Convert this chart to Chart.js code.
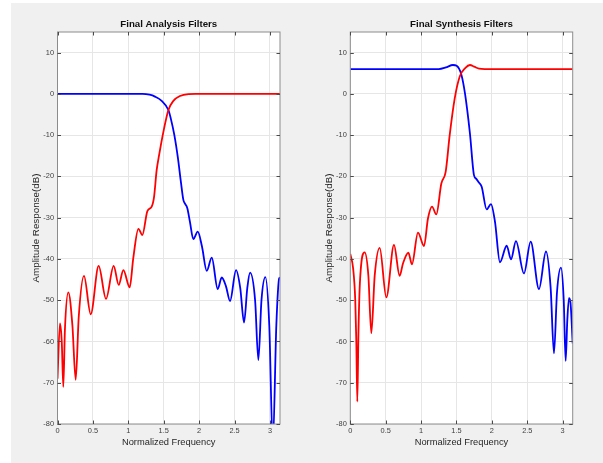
<!DOCTYPE html>
<html><head><meta charset="utf-8">
<script src="https://cdn.jsdelivr.net/npm/chart.js@4"></script>
<style>
html,body{margin:0;padding:0;background:#fff;overflow:hidden;}
#bg{position:absolute;left:11px;top:3px;width:592px;height:460px;background:#f0f0f0;}
canvas{position:absolute;top:0;}
</style></head><body>
<div id="bg"></div>
<canvas id="c1" width="301" height="463" style="left:0px"></canvas>
<canvas id="c2" width="303" height="463" style="left:300px"></canvas>
<script>
// ---- tick labels ----
const xTicks = [0, 0.5, 1, 1.5, 2, 2.5, 3];
const xTickLabels = ['0', '0.5', '1', '1.5', '2', '2.5', '3'];
const yTicks = [-80, -70, -60, -50, -40, -30, -20, -10, 0, 10];
const yTickLabels = ['-80', '-70', '-60', '-50', '-40', '-30', '-20', '-10', '0', '10'];
const titles = ['Final Analysis Filters', 'Final Synthesis Filters'];
const xLabel = 'Normalized Frequency';
const yLabel = 'Amplitude Response(dB)';

// ---- Analysis: lowpass (blue) ----
const anaLowF = [0, 1.2, 1.3, 1.377, 1.471, 1.566, 1.60, 1.65, 1.70, 1.74, 1.777, 1.80, 1.833, 1.87, 1.918, 1.98, 2.04, 2.107, 2.178, 2.262, 2.319, 2.38, 2.436, 2.521, 2.58, 2.634, 2.68, 2.719, 2.79, 2.836, 2.88, 2.935, 2.99, 3.04, 3.09, 3.13, 3.1416];
const anaLowDb = [0, 0, -0.2, -0.67, -1.7, -3.9, -6, -10, -15.5, -21, -25.7, -26.6, -27.7, -31, -35.2, -33.4, -37, -42.9, -39.7, -47.3, -44.5, -46.7, -50.2, -42.7, -47, -55.4, -47, -43.3, -50, -64.5, -50, -44.4, -56, -85, -56, -44.7, -44.5];
// ---- Analysis: highpass (red) ----
const anaHighF = [0, 0.035, 0.06, 0.082, 0.105, 0.153, 0.21, 0.257, 0.30, 0.374, 0.469, 0.581, 0.685, 0.793, 0.864, 0.93, 1.019, 1.07, 1.142, 1.198, 1.269, 1.33, 1.363, 1.40, 1.435, 1.495, 1.566, 1.636, 1.73, 1.85, 1.95, 3.1416];
const anaHighDb = [-69, -55.6, -60, -71, -57, -48.1, -56, -69.3, -54, -44.1, -53.4, -41.7, -49.7, -41.7, -46.3, -42.7, -46.9, -39.8, -32.7, -34.2, -28.4, -27.3, -25, -18.5, -14.8, -9.2, -3.9, -1.7, -0.5, -0.05, 0, 0];
// ---- Synthesis: lowpass (blue) ----
const synLowF = [0, 1.25, 1.35, 1.45, 1.502, 1.57, 1.62, 1.69, 1.747, 1.78, 1.808, 1.856, 1.926, 1.987, 2.044, 2.114, 2.209, 2.27, 2.34, 2.453, 2.548, 2.665, 2.764, 2.83, 2.877, 2.92, 2.976, 3.015, 3.042, 3.065, 3.089, 3.11, 3.1416];
const synLowDb = [6, 6, 6.4, 7.0, 6.8, 4.6, 0.1, -9.6, -19.7, -20.6, -21.3, -22.5, -28, -26.7, -31, -40.8, -36.8, -40.1, -35.7, -43.5, -35.8, -47.3, -38.2, -47, -62.9, -48, -42.1, -50, -64.7, -55, -49.5, -50.5, -60.5];
// ---- Synthesis: highpass (red) ----
const synHighF = [0, 0.04, 0.07, 0.085, 0.099, 0.115, 0.135, 0.203, 0.255, 0.297, 0.345, 0.415, 0.509, 0.617, 0.697, 0.744, 0.82, 0.871, 0.956, 1.041, 1.097, 1.154, 1.215, 1.286, 1.347, 1.404, 1.475, 1.546, 1.626, 1.69, 1.75, 1.82, 1.9, 3.1416];
const synHighDb = [-38.8, -42.3, -50, -60, -74.6, -58, -46, -38.4, -44, -58, -44, -37.3, -49.3, -36.6, -44.1, -41.1, -38.5, -41.3, -33.6, -36.9, -30.2, -27.3, -29.2, -21.7, -18.9, -10, -1.1, 4.2, 6.3, 7.0, 6.6, 6.1, 6.0, 6.0];

const FONT = "'Liberation Sans', Arial, Helvetica, sans-serif";
const toXY = (fs, ds) => fs.map((f, i) => ({x: f, y: ds[i]}));

const axesPlugin = {
  id: 'matlabAxes',
  beforeDraw(chart) {
    const a = chart.chartArea, ctx = chart.ctx;
    ctx.save();
    ctx.fillStyle = '#ffffff';
    ctx.fillRect(a.left, a.top, a.right - a.left, a.bottom - a.top);
    ctx.restore();
  },
  afterDraw(chart) {
    const a = chart.chartArea, ctx = chart.ctx;
    const xs = chart.scales.x, ys = chart.scales.y;
    ctx.save();
    ctx.strokeStyle = '#8c8c8c';
    ctx.lineWidth = 1;
    ctx.strokeRect(a.left, a.top, a.right - a.left, a.bottom - a.top);
    ctx.strokeStyle = '#4a4a4a';
    ctx.beginPath();
    const L = 3.5;
    xs.ticks.forEach(t => {
      const p = Math.round(xs.getPixelForValue(t.value)) + 0.5;
      ctx.moveTo(p, a.bottom); ctx.lineTo(p, a.bottom - L);
      ctx.moveTo(p, a.top); ctx.lineTo(p, a.top + L);
    });
    ys.ticks.forEach(t => {
      const p = Math.round(ys.getPixelForValue(t.value)) + 0.5;
      ctx.moveTo(a.left, p); ctx.lineTo(a.left + L, p);
      ctx.moveTo(a.right, p); ctx.lineTo(a.right - L, p);
    });
    ctx.stroke();
    ctx.fillStyle = '#111111';
    ctx.font = 'bold 9.7px ' + FONT;
    ctx.textAlign = 'center';
    ctx.textBaseline = 'middle';
    ctx.fillText(chart.options.plugins.matlabAxes.title, (a.left + a.right) / 2, 24.5);
    ctx.restore();
  }
};

function makeChart(id, title, lowF, lowDb, highF, highDb, g) {
  return new Chart(document.getElementById(id), {
    type: 'line',
    data: {
      datasets: [
        {data: toXY(highF, highDb), borderColor: '#ff0000', borderWidth: 1.8, pointRadius: 0, cubicInterpolationMode: 'monotone', fill: false},
        {data: toXY(lowF, lowDb), borderColor: '#0000ff', borderWidth: 1.8, pointRadius: 0, cubicInterpolationMode: 'monotone', fill: false}
      ]
    },
    options: {
      responsive: false,
      animation: false,
      events: [],
      layout: {padding: {left: 0, top: 32, right: g.right, bottom: 0}},
      plugins: {legend: {display: false}, tooltip: {enabled: false}, matlabAxes: {title: title}},
      scales: {
        x: {
          type: 'linear', min: 0, max: Math.PI,
          afterBuildTicks: s => { s.ticks = xTicks.map(v => ({value: v})); },
          afterFit: s => { s.height = 39; },
          ticks: {autoSkip: false, maxRotation: 0, padding: 3, color: '#404040',
                  font: {family: FONT, size: 7.4},
                  callback: (v, i) => xTickLabels[i]},
          grid: {color: '#e6e6e6', drawTicks: false, lineWidth: 1},
          border: {display: false},
          title: {display: true, text: xLabel, color: '#262626', font: {family: FONT, size: 9.3}, padding: {top: 0, bottom: 14.8}}
        },
        y: {
          type: 'linear', min: -80, max: 15,
          afterBuildTicks: s => { s.ticks = yTicks.map(v => ({value: v})); },
          afterFit: s => { s.width = g.yW; },
          ticks: {autoSkip: false, padding: 3.5, color: '#404040',
                  font: {family: FONT, size: 7.4},
                  callback: (v, i) => yTickLabels[i]},
          grid: {color: '#e6e6e6', drawTicks: false, lineWidth: 1},
          border: {display: false},
          title: {display: true, text: yLabel, color: '#262626', font: {family: FONT, size: 9.8}, padding: {top: g.yTitle, bottom: 0}}
        }
      }
    },
    plugins: [axesPlugin]
  });
}

makeChart('c1', titles[0], anaLowF, anaLowDb, anaHighF, anaHighDb, {right: 21, yW: 57.5, yTitle: 30.8});
makeChart('c2', titles[1], synLowF, synLowDb, synHighF, synHighDb, {right: 30.3, yW: 50.3, yTitle: 23.4});
</script>
</body></html>
